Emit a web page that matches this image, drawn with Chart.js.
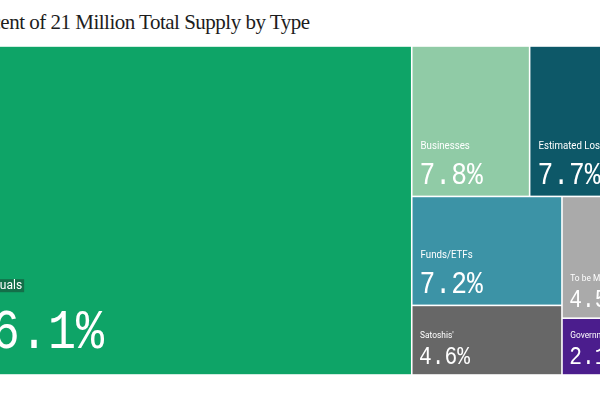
<!DOCTYPE html>
<html>
<head>
<meta charset="utf-8">
<title>Percent of 21 Million Total Supply by Type</title>
<script src="https://cdn.jsdelivr.net/npm/chart.js@4.4.1/dist/chart.umd.min.js"></script>
<style>
    html, body { margin: 0; padding: 0; background: #fff; overflow: hidden; }
    body { width: 600px; height: 400px; position: relative; }
    #title {
        position: absolute; left: -35px; top: 10px; white-space: nowrap;
        font-family: 'Liberation Serif', 'Times New Roman', serif;
        font-size: 21px; line-height: 24px; letter-spacing: -0.5px; color: #1d1d1d;
    }
    #wrap { position: absolute; left: -45px; top: 46px; width: 691px; height: 329px; }
</style>
</head>
<body>
<div id="title">Percent of 21 Million Total Supply by Type</div>
<div id="wrap"><canvas id="treemap"></canvas></div>
<script>
// share of the 21M supply, in percent
var categories = ['Individuals', 'Businesses', 'Estimated Lost', 'Funds/ETFs', "Satoshis'", 'To be Mined', 'Government'];
var shares = [66.1, 7.8, 7.7, 7.2, 4.6, 4.5, 2.1];
var shareLabels = ['66.1%', '7.8%', '7.7%', '7.2%', '4.6%', '4.5%', '2.1%'];

var cellColors = ['#0ea467', '#90cba6', '#0d5868', '#3c93a6', '#676767', '#aaaaaa', '#4b1d8d'];

// text sizes depend on how big the cell ends up
var tiers = {
    big:    { value: 55, label: 12,  labelScale: 1,    valueGap: 26,   labelGap: 85, pad: 9 },
    medium: { value: 31, label: 11,  labelScale: 0.88, valueGap: 12,   labelGap: 47, pad: 8 },
    small:  { value: 25, label: 9.5, labelScale: 0.88, valueGap: 10.5, labelGap: 36, pad: 7.5 }
};

// squarified layout (same rule as d3.treemapSquarify)
function squarify(values, x0, y0, x1, y1) {
    var ratio = (1 + Math.sqrt(5)) / 2;
    var cells = [];
    var value = values.reduce(function (a, b) { return a + b; }, 0);
    var i0 = 0, i1 = 0, n = values.length;
    while (i0 < n) {
        var dx = x1 - x0, dy = y1 - y0;
        var sum = values[i1++];
        var minV = sum, maxV = sum;
        var alpha = Math.max(dy / dx, dx / dy) / (value * ratio);
        var beta = sum * sum * alpha;
        var minRatio = Math.max(maxV / beta, beta / minV);
        for (; i1 < n; ++i1) {
            var v = values[i1];
            sum += v;
            if (v < minV) minV = v;
            if (v > maxV) maxV = v;
            beta = sum * sum * alpha;
            var newRatio = Math.max(maxV / beta, beta / minV);
            if (newRatio > minRatio) { sum -= v; break; }
            minRatio = newRatio;
        }
        var i;
        if (dx < dy) {
            var yb = y0 + dy * sum / value, x = x0;
            for (i = i0; i < i1; i++) {
                var w = dx * values[i] / sum;
                cells[i] = { x0: x, y0: y0, x1: x + w, y1: yb };
                x += w;
            }
            y0 = yb;
        } else {
            var xb = x0 + dx * sum / value, y = y0;
            for (i = i0; i < i1; i++) {
                var h = dy * values[i] / sum;
                cells[i] = { x0: x0, y0: y, x1: xb, y1: y + h };
                y += h;
            }
            x0 = xb;
        }
        value -= sum;
        i0 = i1;
    }
    return cells;
}

var treemapPlugin = {
    id: 'treemapCells',
    afterDatasetsDraw: function (chart) {
        var ctx = chart.ctx;
        var xs = chart.scales.x, ys = chart.scales.y;
        var cells = squarify(shares, xs.getPixelForValue(0), ys.getPixelForValue(100),
                             xs.getPixelForValue(100), ys.getPixelForValue(0));
        var gap = 0.8;

        ctx.save();
        cells.forEach(function (c, i) {
            ctx.fillStyle = cellColors[i];
            ctx.fillRect(c.x0 + gap, c.y0 + gap, c.x1 - c.x0 - 2 * gap, c.y1 - c.y0 - 2 * gap);
        });

        cells.forEach(function (c, i) {
            var minDim = Math.min(c.x1 - c.x0, c.y1 - c.y0);
            var t = minDim > 200 ? tiers.big : (minDim > 100 ? tiers.medium : tiers.small);
            var tx = c.x0 + gap + t.pad;
            var bottom = c.y1 - gap;

            ctx.save();
            ctx.beginPath();
            ctx.rect(c.x0 + gap, c.y0 + gap, c.x1 - c.x0 - 2 * gap, c.y1 - c.y0 - 2 * gap);
            ctx.clip();

            // category name
            ctx.font = t.label + 'px Roboto, "Liberation Sans", sans-serif';
            ctx.textBaseline = 'alphabetic';
            ctx.textAlign = 'left';
            var ly = bottom - t.labelGap;
            var lw = ctx.measureText(categories[i]).width * t.labelScale;
            if (t === tiers.big) {
                ctx.fillStyle = '#146f49';
                ctx.fillRect(tx - 2, ly - 10, lw + 4, 13);
            }
            ctx.fillStyle = '#ffffff';
            ctx.save();
            ctx.translate(tx, ly);
            ctx.scale(t.labelScale, 1);
            ctx.fillText(categories[i], 0, 0);
            ctx.restore();

            // percentage
            ctx.font = t.value + 'px "Liberation Mono", "DejaVu Sans Mono", monospace';
            ctx.save();
            ctx.translate(tx - 1, bottom - t.valueGap);
            ctx.scale(0.85, 1);
            ctx.fillText(shareLabels[i], 0, 0);
            ctx.restore();

            ctx.restore();
        });
        ctx.restore();
    }
};

document.addEventListener('DOMContentLoaded', function () {
    var ctx = document.getElementById('treemap').getContext('2d');
    new Chart(ctx, {
        type: 'scatter',
        data: {
            datasets: [{
                label: 'Share of total supply',
                data: [],
                pointRadius: 0
            }]
        },
        options: {
            responsive: true,
            maintainAspectRatio: false,
            animation: false,
            layout: { padding: 0 },
            plugins: {
                legend: { display: false },
                tooltip: { enabled: false }
            },
            scales: {
                x: { type: 'linear', display: false, min: 0, max: 100 },
                y: { type: 'linear', display: false, min: 0, max: 100 }
            }
        },
        plugins: [treemapPlugin]
    });
});
</script>
</body>
</html>
